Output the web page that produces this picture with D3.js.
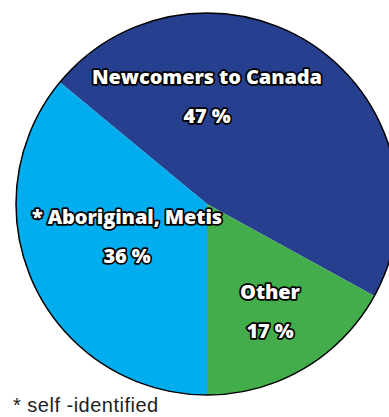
<!DOCTYPE html>
<html><head><meta charset="utf-8">
<script src="https://cdn.jsdelivr.net/npm/d3@7"></script>
<style>html,body{margin:0;padding:0;background:#fff;overflow:hidden}</style>
</head><body>
<svg id="c" width="389" height="417"></svg>
<script>
const categories = ["Newcomers to Canada", "Other", "* Aboriginal, Metis"];
const values = [47, 17, 36];
const valueLabels = ["47 %", "17 %", "36 %"];
const colors = ["#273f8f", "#43ad4b", "#00aeef"];
const footnote = "* self -identified";

// layout (not data)
const cx = 207, cy = 204, R = 191;
const labelPos = [[207, 84], [270, 299], [127, 224]];
const lineGap = 39;

const svg = d3.select("#c");
const start = -50.4 * Math.PI / 180;
const pie = d3.pie().sort(null).startAngle(start).endAngle(start + 2 * Math.PI);
const arc = d3.arc().innerRadius(0).outerRadius(R);
const arcs = pie(values);

const g = svg.append("g").attr("transform", `translate(${cx},${cy})`);
g.selectAll("path.s").data(arcs).join("path").attr("class","s")
  .attr("d", arc).attr("fill", (d, i) => colors[i]);
g.append("circle").attr("r", R).attr("fill", "none").attr("stroke", "#000").attr("stroke-width", 1.5);

const lab = svg.append("g")
  .attr("font-family", "'Open Sans', sans-serif").attr("font-weight", 800)
  .attr("font-size", 20).attr("text-anchor", "middle").attr("letter-spacing", -0.1)
  .attr("fill", "#fff").attr("stroke", "#000").attr("stroke-width", 3.5)
  .attr("stroke-linejoin", "round").attr("paint-order", "stroke");
categories.forEach((c, i) => {
  lab.append("text").attr("x", labelPos[i][0]).attr("y", labelPos[i][1]).text(c);
  lab.append("text").attr("x", labelPos[i][0]).attr("y", labelPos[i][1] + lineGap).text(valueLabels[i]);
});

svg.append("text").attr("x", 13).attr("y", 412)
  .attr("font-family", "'Liberation Sans', Arial, sans-serif").attr("font-size", 20)
  .attr("letter-spacing", 0.5).attr("fill", "#222").text(footnote);
</script>
</body></html>
